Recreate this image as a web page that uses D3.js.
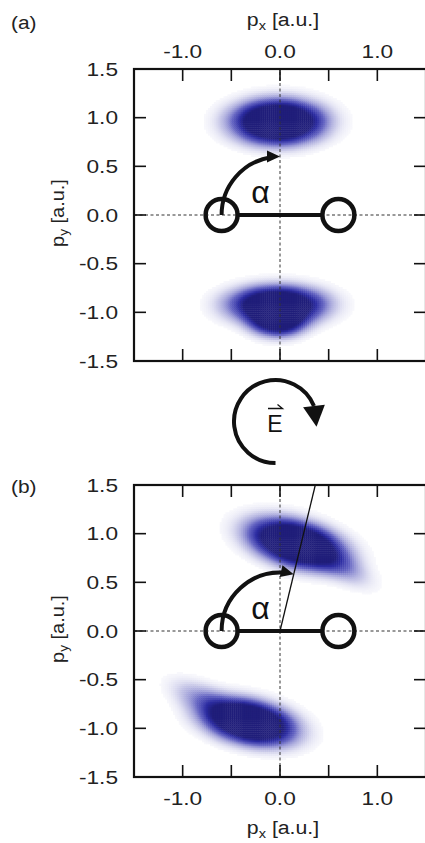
<!DOCTYPE html>
<html>
<head>
<meta charset="utf-8">
<script src="https://cdn.jsdelivr.net/npm/d3@7"></script>
<style>
  body { margin: 0; background: #fff; }
  svg { display: block; font-family: "Liberation Sans", Arial, sans-serif; }
</style>
</head>
<body>
<div id="chart"></div>
<script>
// axis ticks and labels
const xTicks = [-1.0, -0.5, 0.0, 0.5, 1.0];
const xTickLabels = [-1.0, 0.0, 1.0];
const yTicks = [-1.0, -0.5, 0.0, 0.5, 1.0];
const yTickLabels = [-1.5, -1.0, -0.5, 0.0, 0.5, 1.0, 1.5];
const panelLabels = ['(a)', '(b)'];

// molecule: atom positions on the p_x axis, arc radius for alpha
const atomX = [-0.6, 0.6];
const arcRadius = 0.6;
// angle of the marked direction from +p_x axis, degrees
const directionAngle = [90, 76.4];

// momentum distributions, gaussian lobes
// [cx, cy, sigmaMajor, sigmaMinor, angleDeg, amplitude]
const lobesA = [
  [-0.02, 0.96, 0.235, 0.115, 0, 3.0],
  [-0.03, -0.92, 0.25, 0.1, 0, 2.4],
  [-0.02, -1.06, 0.15, 0.09, 0, 2.2]
];
const lobesB = [
  [0.17, 0.9, 0.25, 0.115, -15, 3.0],
  [0.55, 0.72, 0.22, 0.085, -30, 0.35],
  [-0.32, -0.93, 0.24, 0.11, -12, 3.0],
  [-0.72, -0.74, 0.22, 0.09, -25, 0.35]
];

const W = 425, H = 843;
const svg = d3.select('#chart').append('svg').attr('width', W).attr('height', H);

const x = d3.scaleLinear().domain([-1.5, 1.5]).range([134, 426]);
const panels = [
  { y: d3.scaleLinear().domain([-1.5, 1.5]).range([361, 69]), lobes: lobesA, top: true },
  { y: d3.scaleLinear().domain([-1.5, 1.5]).range([777, 485]), lobes: lobesB, top: false }
];

const color = d3.scaleLinear()
  .domain([0, 0.12, 0.4, 0.7, 1])
  .range(['#ffffff', '#c8c8e8', '#6464c2', '#2c2ca2', '#201e7a'])
  .clamp(true);

const step = 0.02;
const grid = d3.range(-1.5 + step / 2, 1.5, step);

function density(lobes, px, py) {
  let v = 0;
  for (const [cx, cy, sa, sb, ang, amp] of lobes) {
    const t = ang * Math.PI / 180;
    const dx = px - cx, dy = py - cy;
    const u = dx * Math.cos(t) + dy * Math.sin(t);
    const w = -dx * Math.sin(t) + dy * Math.cos(t);
    v += amp * Math.exp(-0.5 * (u * u / (sa * sa) + w * w / (sb * sb)));
  }
  return v;
}

function arrowHead(g, tip, dir, len, half) {
  const bx = tip[0] - dir[0] * len, by = tip[1] - dir[1] * len;
  const pts = [tip, [bx - dir[1] * half, by + dir[0] * half], [bx + dir[1] * half, by - dir[0] * half]];
  g.append('path').attr('d', d3.line()(pts) + 'Z').attr('fill', '#111');
}

// the printed lettering is a little wider than the font
function label(g, tx, ty, size, stretch, anchor) {
  return g.append('text')
    .attr('transform', `translate(${tx},${ty}) scale(${stretch},1)`)
    .attr('text-anchor', anchor).attr('font-size', size).attr('fill', '#222');
}

function axisTitle(sel, sub) {
  sel.append('tspan').text('p');
  sel.append('tspan').attr('font-size', 13).attr('dy', 4).text(sub);
  sel.append('tspan').attr('dy', -4).text(' [a.u.]');
}

panels.forEach((p, i) => {
  const y = p.y;
  const g = svg.append('g');

  // heat map cells
  const cells = [];
  grid.forEach(gx => grid.forEach(gy => {
    const v = density(p.lobes, gx, gy);
    if (v > 0.015) cells.push({ gx, gy, v });
  }));
  const cw = x(step) - x(0);
  g.append('g').selectAll('rect').data(cells).join('rect')
    .attr('x', d => x(d.gx - step / 2))
    .attr('y', d => y(d.gy + step / 2))
    .attr('width', cw + 0.4)
    .attr('height', cw + 0.4)
    .attr('fill', d => color(d.v));

  // dashed zero lines
  g.append('line').attr('x1', x(-1.5)).attr('x2', x(1.5)).attr('y1', y(0)).attr('y2', y(0))
    .attr('stroke', '#333').attr('stroke-width', 1).attr('stroke-dasharray', '3,2.5');
  g.append('line').attr('x1', x(0)).attr('x2', x(0)).attr('y1', y(-1.5)).attr('y2', y(1.5))
    .attr('stroke', '#333').attr('stroke-width', 1).attr('stroke-dasharray', '3,2.5');

  // frame and ticks
  g.append('rect').attr('x', x(-1.5)).attr('y', y(1.5))
    .attr('width', x(1.5) - x(-1.5)).attr('height', y(-1.5) - y(1.5))
    .attr('fill', 'none').attr('stroke', '#111').attr('stroke-width', 2.2);
  const tl = 12;
  g.selectAll('.xt').data(xTicks).join('line')
    .attr('x1', d => x(d)).attr('x2', d => x(d))
    .attr('y1', y(1.5)).attr('y2', y(1.5) + tl)
    .attr('stroke', '#111').attr('stroke-width', 1.6);
  g.selectAll('.xb').data(xTicks).join('line')
    .attr('x1', d => x(d)).attr('x2', d => x(d))
    .attr('y1', y(-1.5)).attr('y2', y(-1.5) - tl)
    .attr('stroke', '#111').attr('stroke-width', 1.6);
  g.selectAll('.yl').data(yTicks).join('line')
    .attr('x1', x(-1.5)).attr('x2', x(-1.5) + tl)
    .attr('y1', d => y(d)).attr('y2', d => y(d))
    .attr('stroke', '#111').attr('stroke-width', 1.6);
  g.selectAll('.yr').data(yTicks).join('line')
    .attr('x1', x(1.5)).attr('x2', x(1.5) - tl)
    .attr('y1', d => y(d)).attr('y2', d => y(d))
    .attr('stroke', '#111').attr('stroke-width', 1.6);

  // tick labels
  yTickLabels.forEach(d => {
    label(g, 118, y(d) + 6.8, 18.6, 1.22, 'end').text(d.toFixed(1));
  });
  xTickLabels.forEach(d => {
    label(g, x(d), p.top ? 58 : 805, 18.6, 1.22, 'middle').text(d.toFixed(1));
  });
  label(g, x(0) + 3, p.top ? 26 : 834, 19, 1.12, 'middle').call(s => axisTitle(s, 'x'));

  // y axis title
  g.append('text')
    .attr('transform', `translate(64,${(y(1.5) + y(-1.5)) / 2 - 2}) rotate(-90) scale(1.05,1)`)
    .attr('text-anchor', 'middle').attr('font-size', 19).attr('fill', '#222')
    .call(s => axisTitle(s, 'y'));

  label(g, 11, p.top ? 29 : 493, 19, 1.1, 'start').text(panelLabels[i]);

  // direction line in (b)
  const ang = directionAngle[i] * Math.PI / 180;
  if (!p.top) {
    const len = 1.5 / Math.sin(ang);
    g.append('line').attr('x1', x(0)).attr('y1', y(0))
      .attr('x2', x(len * Math.cos(ang))).attr('y2', y(len * Math.sin(ang)))
      .attr('stroke', '#111').attr('stroke-width', 1.3);
  }

  // molecule
  const r = 16;
  g.append('line').attr('x1', x(atomX[0]) + r).attr('x2', x(atomX[1]) - r)
    .attr('y1', y(0)).attr('y2', y(0)).attr('stroke', '#111').attr('stroke-width', 4);
  g.selectAll('.atom').data(atomX).join('circle')
    .attr('cx', d => x(d)).attr('cy', y(0)).attr('r', r)
    .attr('fill', 'none').attr('stroke', '#111').attr('stroke-width', 4.5);

  // alpha arc with arrow
  const cx = x(0), cy = y(0), R = x(arcRadius) - x(0);
  const endA = -ang; // pixel-space angle
  const headLen = 13;
  const path = d3.path();
  path.arc(cx, cy, R, Math.PI, 2 * Math.PI + endA - headLen * 0.7 / R);
  g.append('path').attr('d', path.toString()).attr('fill', 'none')
    .attr('stroke', '#111').attr('stroke-width', 4);
  const tip = [cx + R * Math.cos(endA), cy + R * Math.sin(endA)];
  arrowHead(g, tip, [-Math.sin(endA), Math.cos(endA)], headLen, 6);
  g.append('text').attr('x', x(-0.2)).attr('y', y(0.24) + 11)
    .attr('text-anchor', 'middle').attr('font-size', 32).attr('fill', '#111').text('α');
});

// rotating field symbol between the panels
const fc = [275.5, 421.5], fr = 41.5;
const fEnd = -22 * Math.PI / 180;
const fp = d3.path();
fp.arc(fc[0], fc[1], fr, Math.PI / 2, 2 * Math.PI + fEnd);
svg.append('path').attr('d', fp.toString()).attr('fill', 'none')
  .attr('stroke', '#111').attr('stroke-width', 4);
const fBase = [fc[0] + fr * Math.cos(fEnd), fc[1] + fr * Math.sin(fEnd)];
const fdir = [0.12, 0.99];
arrowHead(svg, [fBase[0] + fdir[0] * 21, fBase[1] + fdir[1] * 21], fdir, 21, 11);
label(svg, 275, 432, 23, 1.0, 'middle').attr('fill', '#111').text('E');
svg.append('path').attr('d', 'M268,408.5 L282.5,408.5 L277.5,404.5')
  .attr('fill', 'none').attr('stroke', '#111').attr('stroke-width', 1.3);
</script>
</body>
</html>
